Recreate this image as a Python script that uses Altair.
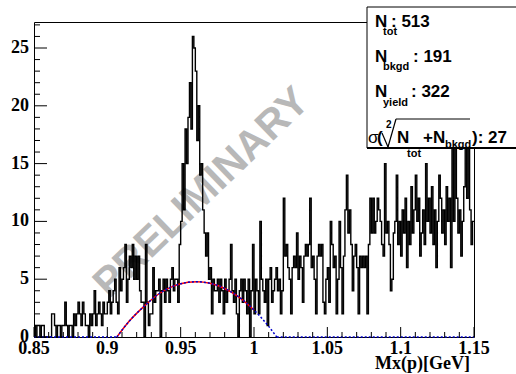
import altair as alt
import pandas as pd

# ---------------- data ----------------
x_min, x_max = 0.85, 1.15
bin_width = 0.001
counts = [
    1, 0, 1, 1, 0, 1, 1, 0, 0, 0,
    0, 0, 2, 2, 1, 0, 1, 1, 0, 1,
    1, 3, 1, 0, 1, 1, 0, 2, 1, 2,
    3, 2, 1, 3, 2, 1, 1, 0, 2, 1,
    2, 4, 1, 2, 3, 2, 1, 3, 2, 2,
    3, 4, 2, 3, 4, 5, 3, 2, 6, 4,
    5, 6, 8, 3, 5, 7, 6, 8, 5, 7,
    5, 7, 4, 3, 3, 0, 8, 3, 1, 2,
    2, 6, 3, 4, 4, 5, 0, 4, 5, 3,
    5, 4, 3, 5, 6, 4, 5, 5, 3, 8,
    10, 15, 11, 18, 15, 19, 22, 18, 26, 25,
    23, 17, 20, 14, 15, 11, 9, 7, 9, 5,
    6, 2, 5, 4, 4, 5, 3, 5, 4, 2,
    5, 3, 4, 5, 8, 4, 3, 5, 2, 0,
    4, 5, 3, 5, 4, 2, 5, 0, 4, 8,
    2, 5, 4, 2, 10, 5, 4, 3, 5, 1,
    5, 6, 3, 4, 5, 6, 4, 5, 2, 4,
    12, 7, 8, 6, 5, 2, 6, 7, 6, 9,
    5, 7, 6, 3, 7, 8, 7, 8, 12, 6,
    7, 5, 2, 7, 8, 7, 8, 3, 2, 5,
    6, 3, 10, 8, 6, 7, 2, 5, 10, 6,
    2, 7, 11, 14, 9, 11, 8, 4, 7, 8,
    6, 2, 7, 6, 7, 6, 7, 2, 8, 12,
    9, 12, 9, 10, 12, 11, 10, 8, 7, 15,
    9, 10, 8, 4, 5, 9, 10, 14, 8, 10,
    7, 11, 9, 12, 6, 10, 8, 13, 9, 11,
    14, 10, 12, 7, 9, 11, 8, 15, 10, 12,
    9, 13, 8, 11, 6, 10, 14, 12, 9, 11,
    8, 13, 10, 12, 6, 17, 10, 18, 12, 9,
    11, 7, 10, 13, 18, 12, 17, 11, 8, 10,
]

# background fit curve
fit_arc_x = [0.9065, 0.915, 0.925, 0.935, 0.945, 0.955, 0.961, 0.97, 0.98, 0.99, 1.0, 1.01, 1.0155]
fit_arc_y = [0.0, 1.38, 2.65, 3.72, 4.40, 4.73, 4.78, 4.65, 4.20, 3.43, 2.33, 0.92, 0.0]
fit_red_end = 1.0
fit_left_x = [0.85, 0.9065]
fit_right_x = [1.0155, 1.15]

y_major = [0, 5, 10, 15, 20, 25]
y_labels = ["0", "5", "10", "15", "20", "25"]
y_minor = [1, 2, 3, 4, 6, 7, 8, 9, 11, 12, 13, 14, 16, 17, 18, 19, 21, 22, 23, 24, 26, 27]
x_major = [0.85, 0.9, 0.95, 1.0, 1.05, 1.1, 1.15]
x_labels = ["0.85", "0.9", "0.95", "1", "1.05", "1.1", "1.15"]
x_minor = [0.86, 0.87, 0.88, 0.89, 0.91, 0.92, 0.93, 0.94, 0.96, 0.97, 0.98, 0.99,
           1.01, 1.02, 1.03, 1.04, 1.06, 1.07, 1.08, 1.09, 1.11, 1.12, 1.13, 1.14]

x_title = "Mx(p)[GeV]"
watermark = "PRELIMINARY"
n_tot, n_bkgd, n_yield, sigma = "513", "191", "322", "27"

# ---------------- tables ----------------
edges = [round(x_min + i * bin_width, 4) for i in range(len(counts) + 1)]
hist_df = pd.DataFrame({"edge": edges, "count": counts + [counts[-1]]})

arc_df = pd.DataFrame({"x": fit_arc_x, "y": fit_arc_y, "part": "arc"})
red_df = arc_df[arc_df["x"] <= fit_red_end + 1e-9]
blue_df = pd.concat([
    pd.DataFrame({"x": fit_left_x, "y": [0, 0], "part": "left"}),
    arc_df,
    pd.DataFrame({"x": fit_right_x, "y": [0, 0], "part": "right"}),
])

W, H = 440, 315
xs = alt.Scale(domain=[x_min, x_max], nice=False, zero=False)
ys = alt.Scale(domain=[0, 27.25], nice=False)
SERIF = "Liberation Serif"


def X(field):
    return alt.X(field, scale=xs, axis=None)


def Y(field):
    return alt.Y(field, scale=ys, axis=None)


hist = alt.Chart(hist_df).mark_line(interpolate="step-after", color="black", strokeWidth=1.4).encode(
    x=X("edge:Q"), y=Y("count:Q"))

red = alt.Chart(red_df).mark_line(interpolate="monotone", color="#ff0000", strokeWidth=1.5).encode(
    x=X("x:Q"), y=Y("y:Q"))
blue = alt.Chart(blue_df).mark_line(interpolate="monotone", color="#0000cc", strokeWidth=1.5,
                                    strokeDash=[2, 2]).encode(
    x=X("x:Q"), y=Y("y:Q"), detail="part:N")


def yticks(vals, length):
    return alt.Chart(pd.DataFrame({"v": vals})).mark_rule(color="black", strokeWidth=1).encode(
        y=Y("v:Q"), x=alt.value(0), x2=alt.value(length))


def xticks(vals, length):
    return alt.Chart(pd.DataFrame({"v": vals})).mark_rule(color="black", strokeWidth=1).encode(
        x=X("v:Q"), y=alt.value(H), y2=alt.value(H - length))


x_tick_text = alt.Chart(pd.DataFrame({"v": x_major, "t": x_labels})).mark_text(
    font=SERIF, fontSize=18, fontWeight="bold", align="center", baseline="top", color="black"
).encode(x=X("v:Q"), y=alt.value(H + 3), text="t:N")

y_tick_text = alt.Chart(pd.DataFrame({"v": y_major, "t": y_labels})).mark_text(
    font=SERIF, fontSize=18, fontWeight="bold", align="right", baseline="middle", color="black"
).encode(y=Y("v:Q"), x=alt.value(-5), text="t:N")


def txt(s, x, y, size, font="Liberation Sans", weight="bold", align="left",
        baseline="alphabetic", color="black", angle=0):
    return alt.Chart(pd.DataFrame({"t": [s]})).mark_text(
        font=font, fontSize=size, fontWeight=weight, align=align, baseline=baseline,
        color=color, angle=angle).encode(x=alt.value(x), y=alt.value(y), text="t:N")


def seg(x1, y1, x2, y2, w=1):
    return alt.Chart(pd.DataFrame({"a": [0]})).mark_rule(color="black", strokeWidth=w).encode(
        x=alt.value(x1), y=alt.value(y1), x2=alt.value(x2), y2=alt.value(y2))


wm = txt(watermark, 168, 171, 41, color="#b8b8b8", baseline="middle", align="center", angle=316)

box = alt.Chart(pd.DataFrame({"a": [0]})).mark_rect(fill="white", stroke="black", strokeWidth=1).encode(
    x=alt.value(333), x2=alt.value(500), y=alt.value(-15), y2=alt.value(126))
box_bottom = seg(333, 126, 500, 126, 2)

layers = [
    wm, hist, red, blue,
    yticks(y_major, 13), yticks(y_minor, 6),
    xticks(x_major, 10), xticks(x_minor, 5),
    x_tick_text, y_tick_text,
    txt(x_title, 436, H + 32, 18, font=SERIF, align="right"),
    box, box_bottom,
    txt("N", 341, 5, 17), txt("tot", 349, 13, 11), txt(": " + n_tot, 357, 5, 17),
    txt("N", 341, 40, 17), txt("bkgd", 349, 48, 11), txt(": " + n_bkgd, 379, 40, 17),
    txt("N", 341, 75, 17), txt("yield", 349, 84, 11), txt(": " + n_yield, 377, 75, 17),
    txt("σ", 334, 121, 17, weight="normal"), txt("(", 343, 121, 17), txt("2", 352, 106, 10),
    seg(348, 111, 354, 125, 1.2), seg(354, 125, 362, 97, 1.2), seg(362, 97, 436, 97, 1),
    txt("N", 363, 121, 17), txt("tot", 373, 135, 11), txt("+N", 389, 121, 17),
    txt("bkgd", 411, 126, 11), txt("): " + sigma, 438, 121, 17),
]

chart = alt.layer(*layers).properties(
    width=W, height=H, autosize="none",
    padding={"left": 34, "top": 22, "right": 42, "bottom": 37},
    background="white",
).configure_view(stroke="black", strokeWidth=1)

chart.save("out.html", embed_options={"renderer": "svg", "actions": False})
